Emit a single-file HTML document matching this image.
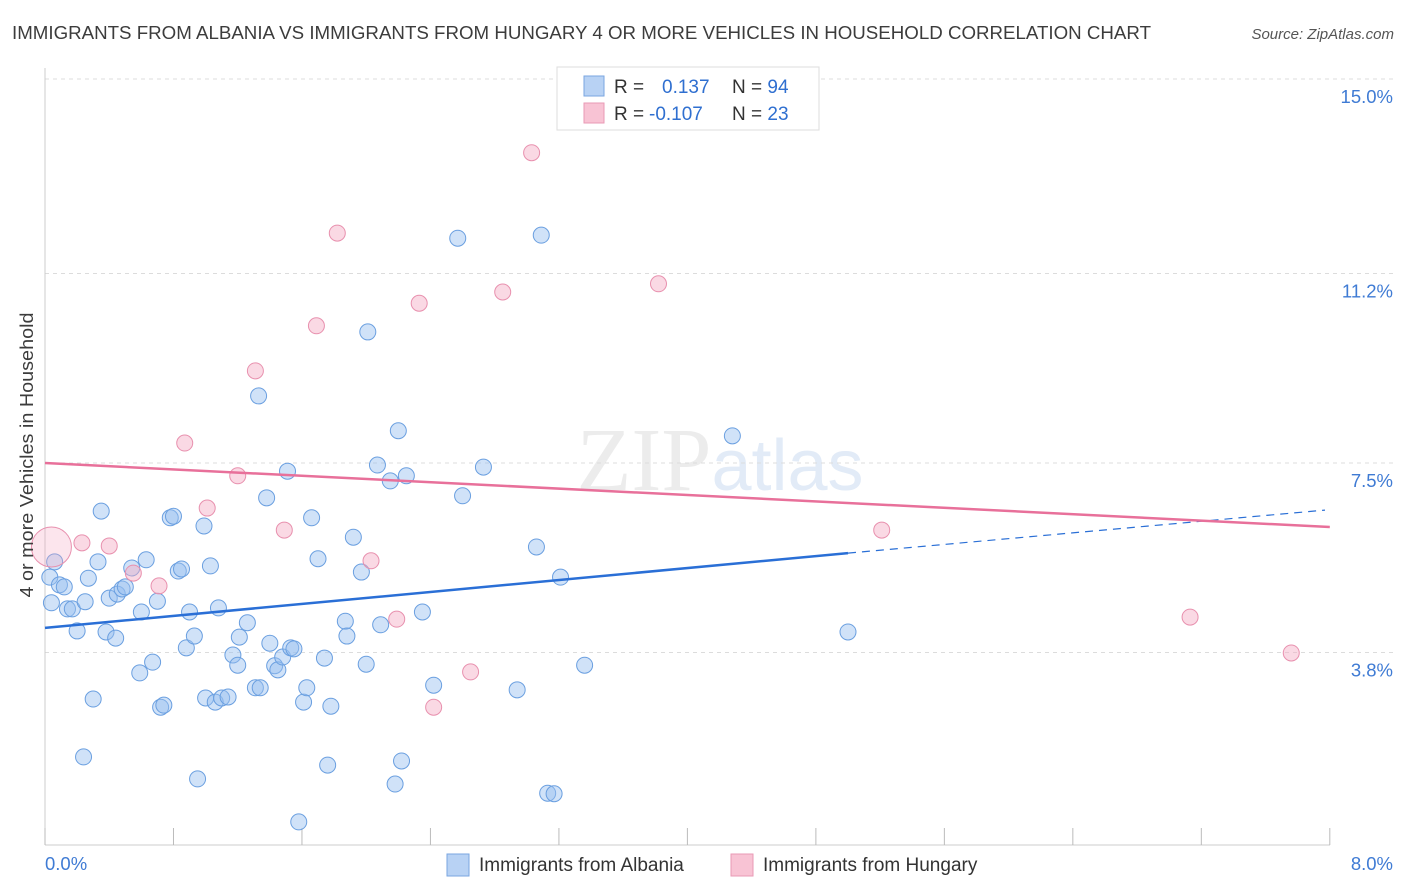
<!DOCTYPE html>
<html><head><meta charset="utf-8"><style>
body{margin:0;background:#fff;font-family:"Liberation Sans",sans-serif}
</style></head><body>
<svg id="chart" width="1406" height="892" xmlns="http://www.w3.org/2000/svg" style="display:block">
<text x="12" y="39" font-size="18" fill="#3c3c3c" textLength="1139" lengthAdjust="spacingAndGlyphs">IMMIGRANTS FROM ALBANIA VS IMMIGRANTS FROM HUNGARY 4 OR MORE VEHICLES IN HOUSEHOLD CORRELATION CHART</text>
<text x="1394" y="39" font-size="15" fill="#555" text-anchor="end" font-style="italic">Source: ZipAtlas.com</text>
<text x="720" y="490" font-size="90" fill="#ececec" text-anchor="middle" font-family="Liberation Serif,serif">ZIP<tspan fill="#e2ebf7" font-family="Liberation Sans,sans-serif" font-size="72">atlas</tspan></text>
<g id="grid"></g><g id="axes"></g><g id="pts"></g><g id="lines"></g>
<text transform="translate(33,455) rotate(-90)" font-size="18" fill="#3c3c3c" text-anchor="middle" textLength="285" lengthAdjust="spacingAndGlyphs">4 or more Vehicles in Household</text>
<g>
<rect x="557" y="67" width="262" height="63" fill="#fff" stroke="#ddd"/>
<rect x="584" y="76" width="20" height="20" fill="#b8d2f4" stroke="#7aa6e0"/>
<rect x="584" y="103" width="20" height="20" fill="#f8c3d4" stroke="#e99ab5"/>
<text x="614" y="93" font-size="19" fill="#333">R =  <tspan fill="#2f6fd0" x="662">0.137</tspan><tspan x="732">N = </tspan><tspan fill="#2f6fd0">94</tspan></text>
<text x="614" y="120" font-size="19" fill="#333">R = <tspan fill="#2f6fd0" x="649">-0.107</tspan><tspan x="732">N = </tspan><tspan fill="#2f6fd0">23</tspan></text>
</g>
<g>
<rect x="447" y="854" width="22" height="22" fill="#b8d2f4" stroke="#7aa6e0"/>
<text x="479" y="871" font-size="19" fill="#333">Immigrants from Albania</text>
<rect x="731" y="854" width="22" height="22" fill="#f8c3d4" stroke="#e99ab5"/>
<text x="763" y="871" font-size="19" fill="#333">Immigrants from Hungary</text>
</g>
</svg>
<script>
const albX=[0.03,0.06,0.04,0.09,0.12,0.14,0.17,0.20,0.24,0.25,0.27,0.30,0.33,0.35,0.38,0.40,0.44,0.45,0.48,0.50,0.54,0.59,0.60,0.63,0.67,0.70,0.72,0.74,0.78,0.80,0.83,0.85,0.88,0.90,0.93,0.95,0.99,1.00,1.03,1.06,1.08,1.10,1.14,1.17,1.20,1.21,1.26,1.31,1.33,1.34,1.38,1.40,1.43,1.45,1.48,1.51,1.53,1.55,1.58,1.61,1.63,1.66,1.70,1.74,1.76,1.78,1.87,1.88,1.92,1.97,2.00,2.01,2.07,2.09,2.15,2.18,2.20,2.22,2.25,2.35,2.42,2.57,2.60,2.73,2.94,3.06,3.09,3.13,3.17,3.21,3.36,4.28,5.00];
const albY=[5.27,5.57,4.77,5.12,5.08,4.65,4.65,4.22,1.76,4.79,5.25,2.89,5.57,6.56,4.20,4.86,4.08,4.94,5.04,5.08,5.45,3.40,4.59,5.61,3.61,4.80,2.73,2.77,6.43,6.46,5.39,5.43,3.89,4.59,4.12,1.33,6.27,2.91,5.49,2.83,4.67,2.91,2.93,3.75,3.55,4.10,4.38,3.11,8.81,3.11,6.82,3.98,3.54,3.46,3.71,7.34,3.89,3.87,0.49,2.83,3.11,6.43,5.63,3.69,1.60,2.75,4.41,4.12,6.05,5.37,3.57,10.06,7.46,4.34,7.15,1.23,8.13,1.68,7.25,4.59,3.16,11.89,6.86,7.42,3.07,5.86,11.95,1.05,1.04,5.27,3.55,8.03,4.20];
const hunX=[0.04,0.23,0.40,0.55,0.71,0.87,1.01,1.20,1.31,1.49,1.69,1.82,2.03,2.19,2.33,2.42,2.65,2.85,3.03,3.82,5.21,7.13,7.76];
const hunY=[5.86,5.94,5.88,5.35,5.10,7.89,6.62,7.25,9.30,6.19,10.18,11.99,5.59,4.45,10.62,2.73,3.42,10.84,13.56,11.00,6.19,4.49,3.79];
const yTicks=[15.0,11.2,7.5,3.8];
const yTickLabels=["15.0%","11.2%","7.5%","3.8%"];
const xTickLabels=["0.0%","8.0%"];
const albTrend=[4.28,5.74,6.58]; // at x=0, 5.0, 7.97
const hunTrend=[7.5,6.25]; // at x=0, 8.0
const X=v=>45+v*160.6, Y=v=>847-v*51.2;
const NS="http://www.w3.org/2000/svg";
function mk(p,t,a){const e=document.createElementNS(NS,t);for(const k in a)e.setAttribute(k,a[k]);p.appendChild(e);return e;}
const grid=document.getElementById('grid'),axes=document.getElementById('axes'),pts=document.getElementById('pts'),lines=document.getElementById('lines');
yTicks.forEach((t,i)=>{
 const g=mk(grid,'line',{x1:45,x2:1394,y1:Y(t),y2:Y(t),stroke:'#dcdcdc','stroke-dasharray':'4,4'});
 
 
 const l=mk(axes,'text',{x:1393,y:Y(t)+24,'font-size':18.5,fill:'#3f7bd4','text-anchor':'end'});l.textContent=yTickLabels[i];
 
 
});
mk(axes,'line',{x1:45,x2:45,y1:68,y2:845,stroke:'#ccc'});
mk(axes,'line',{x1:45,x2:1330,y1:845,y2:845,stroke:'#ccc'});
for(let i=0;i<=10;i++){mk(axes,'line',{x1:X(i*0.8),x2:X(i*0.8),y1:828,y2:845,stroke:'#bbb'});}
[[0,'start',45],[1,'end',1393]].forEach(([i,a,x])=>{const t=mk(axes,'text',{x:x,y:870,'font-size':18.5,fill:'#3f7bd4','text-anchor':a});t.textContent=xTickLabels[i];
 
 });
albX.forEach((x,i)=>{const c=mk(pts,'circle',{cx:X(x),cy:Y(albY[i]),r:8,fill:'rgba(150,190,240,0.45)',stroke:'#6a9fe0','stroke-width':1});
 
 });
hunX.forEach((x,i)=>{const c=mk(pts,'circle',{cx:X(x),cy:Y(hunY[i]),r:i==0?20:8,fill:i==0?'rgba(245,170,195,0.3)':'rgba(245,170,195,0.45)',stroke:'#e890ae','stroke-width':1});
 
 });
const a1=mk(lines,'line',{x1:X(0),y1:Y(albTrend[0]),x2:X(5.0),y2:Y(albTrend[1]),stroke:'#2a6fd6','stroke-width':2.5});


const a2=mk(lines,'line',{x1:X(5.0),y1:Y(albTrend[1]),x2:X(7.97),y2:Y(albTrend[2]),stroke:'#2a6fd6','stroke-width':1.2,'stroke-dasharray':'8,6'});


const h1=mk(lines,'line',{x1:X(0),y1:Y(hunTrend[0]),x2:X(8.0),y2:Y(hunTrend[1]),stroke:'#e8709a','stroke-width':2.5});


</script>
</body></html>
